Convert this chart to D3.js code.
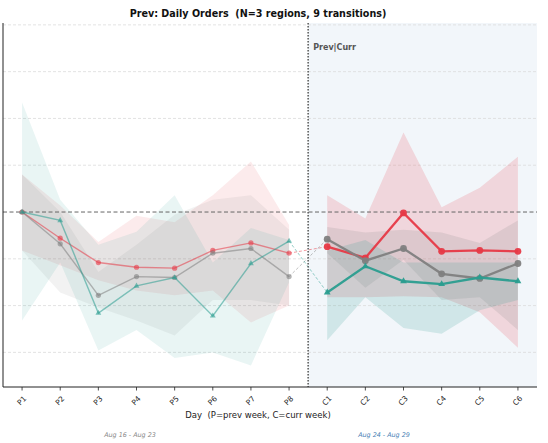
<!DOCTYPE html>
<html><head><meta charset="utf-8">
<script src="https://cdn.jsdelivr.net/npm/d3@7"></script>
<style>body{margin:0;background:#fff;font-family:"DejaVu Sans",sans-serif;} text{white-space:pre;}</style>
</head><body>
<svg id="c" width="548" height="443"></svg>
<script>
// ---- data ----
const prevDays = ["P1","P2","P3","P4","P5","P6","P7","P8"];
const currDays = ["C1","C2","C3","C4","C5","C6"];
const yTicks = [-15,-10,-5,0,5,10,15,20];
const seriesNames = ["Region A","Region B","Region C"];
const seriesColors = ["#e63946","#808080","#2a9d8f"];
const seriesShapes = ["circle","circle","triangle"];
// mean % change
const prevA = [0,-2.8,-5.4,-5.9,-6.0,-4.1,-3.3,-4.4];
const currA = [-3.7,-4.9,-0.1,-4.2,-4.1,-4.2];
const prevB = [0,-3.4,-8.9,-6.9,-7.0,-4.4,-3.9,-6.9];
const currB = [-2.9,-5.2,-3.9,-6.6,-7.1,-5.5];
const prevC = [0,-0.9,-10.8,-7.9,-7.0,-11.1,-5.5,-3.1];
const currC = [-8.6,-5.8,-7.4,-7.7,-7.0,-7.4];
// band upper / lower
const prevAHi = [4.0,0.7,-3.2,-0.4,-1.1,1.8,5.4,-1.4];
const prevALo = [-4.1,-5.7,-7.3,-8.4,-8.9,-8.4,-11.8,-10.0];
const prevBHi = [4.0,0.0,-6.4,-3.5,-0.3,1.3,1.8,-1.9];
const prevBLo = [-4.1,-8.6,-10.2,-11.6,-13.2,-9.4,-9.4,-10.0];
const prevCHi = [11.7,1.3,-3.5,-2.1,1.8,-5.4,-1.7,-3.0];
const prevCLo = [-11.6,-5.4,-14.8,-12.6,-15.6,-15.0,-16.4,-7.5];
const currAHi = [1.8,-0.7,8.5,0.5,2.6,5.9];
const currALo = [-9.1,-9.1,-9.0,-9.1,-10.7,-14.5];
const currBHi = [-1.6,-2.2,-1.9,-2.2,-3.3,-0.9];
const currBLo = [-4.4,-8.1,-5.1,-9.4,-9.1,-12.6];
const currCHi = [-4.1,-3.0,-5.4,-5.4,-5.4,-5.4];
const currCLo = [-13.7,-9.1,-12.4,-13.0,-10.5,-9.4];
const titleText = "Prev: Daily Orders  (N=3 regions, 9 transitions)";
const xLabelText = "Day  (P=prev week, C=curr week)";
const prevRange = "Aug 16 - Aug 23";
const currRange = "Aug 24 - Aug 29";
const dividerLabel = "Prev|Curr";

// ---- build ----
const allDays = prevDays.concat(currDays);
const series = [
  {prev:prevA,curr:currA,pHi:prevAHi,pLo:prevALo,cHi:currAHi,cLo:currALo},
  {prev:prevB,curr:currB,pHi:prevBHi,pLo:prevBLo,cHi:currBHi,cLo:currBLo},
  {prev:prevC,curr:currC,pHi:prevCHi,pLo:prevCLo,cHi:currCHi,cLo:currCLo}
].map((s,i)=>Object.assign(s,{name:seriesNames[i],color:seriesColors[i],shape:seriesShapes[i]}));

const L=3,R=537,T=23,B=387;
const svg=d3.select("#c");
const x=d3.scaleLinear().domain([-0.5,allDays.length-0.5]).range([L,R]);
const y=d3.scaleLinear().domain([-18.7,20.2]).range([B,T]);
const nP=prevDays.length;

// curr shading
svg.append("rect").attr("x",x(nP-0.5)).attr("y",T).attr("width",R-x(nP-0.5)).attr("height",B-T).attr("fill","#f2f6fa");

// grid
svg.append("g").selectAll("line").data(yTicks.filter(v=>v!==0)).join("line")
  .attr("x1",L).attr("x2",R).attr("y1",d=>y(d)).attr("y2",d=>y(d))
  .attr("stroke","#dcdcdc").attr("stroke-width",0.8).attr("stroke-dasharray","3,2");

// bands
const area=d3.area().x(d=>x(d.i)).y0(d=>y(d.lo)).y1(d=>y(d.hi));
series.forEach(s=>{
  const pd=s.prev.map((v,i)=>({i,hi:s.pHi[i],lo:s.pLo[i]}));
  const cd=s.curr.map((v,i)=>({i:i+nP,hi:s.cHi[i],lo:s.cLo[i]}));
  svg.append("path").attr("d",area(pd)).attr("fill",s.color).attr("fill-opacity",0.1);
  svg.append("path").attr("d",area(cd)).attr("fill",s.color).attr("fill-opacity",0.17);
});

// zero line
svg.append("line").attr("x1",L).attr("x2",R).attr("y1",y(0)).attr("y2",y(0))
  .attr("stroke","#666").attr("stroke-width",1).attr("stroke-dasharray","4,2.5");

const line=d3.line().x(d=>x(d.i)).y(d=>y(d.v));
const tri=d3.symbol().type(d3.symbolTriangle);
function markers(g,data,s,r,op){
  if(s.shape==="triangle"){
    g.selectAll(null).data(data).join("path")
      .attr("d",tri.size(r*r*2.2)()).attr("transform",d=>`translate(${x(d.i)},${y(d.v)})`)
      .attr("fill",s.color).attr("opacity",op);
  } else {
    g.selectAll(null).data(data).join("circle")
      .attr("cx",d=>x(d.i)).attr("cy",d=>y(d.v)).attr("r",r)
      .attr("fill",s.color).attr("opacity",op);
  }
}
series.forEach(s=>{
  const pd=s.prev.map((v,i)=>({i,v}));
  const cd=s.curr.map((v,i)=>({i:i+nP,v}));
  const g=svg.append("g");
  g.append("path").attr("d",line([pd[nP-1],cd[0]])).attr("fill","none")
    .attr("stroke",s.color).attr("stroke-width",1).attr("stroke-dasharray","3,2").attr("opacity",0.5);
  g.append("path").attr("d",line(pd)).attr("fill","none").attr("stroke",s.color)
    .attr("stroke-width",1.4).attr("opacity",0.55);
  markers(g,pd,s,2.6,0.6);
  g.append("path").attr("d",line(cd)).attr("fill","none").attr("stroke",s.color)
    .attr("stroke-width",2.3).attr("opacity",0.95);
  markers(g,cd,s,s.shape==="triangle"?3.0:3.4,0.95);
});

// divider
svg.append("line").attr("x1",x(nP-0.5)).attr("x2",x(nP-0.5)).attr("y1",T).attr("y2",B)
  .attr("stroke","#555").attr("stroke-width",1.5).attr("stroke-dasharray","1.5,1.5");
svg.append("text").attr("x",x(nP-0.5)+5).attr("y",50).text(dividerLabel)
  .attr("font-size",8).attr("font-weight","bold").attr("fill","#555");

// spines
svg.append("line").attr("x1",L).attr("x2",L).attr("y1",T).attr("y2",B).attr("stroke","#222").attr("stroke-width",1);
svg.append("line").attr("x1",L).attr("x2",R).attr("y1",B).attr("y2",B).attr("stroke","#222").attr("stroke-width",1);

// x ticks
const xt=svg.append("g");
allDays.forEach((d,i)=>{
  xt.append("line").attr("x1",x(i)).attr("x2",x(i)).attr("y1",B).attr("y2",B+3.5).attr("stroke","#222").attr("stroke-width",0.8);
  xt.append("text").attr("transform",`translate(${x(i)},${B+14}) rotate(-45)`)
    .attr("text-anchor","middle").attr("dominant-baseline","middle")
    .attr("font-size",7.5).attr("fill","#222").text(d);
});

// title & labels
svg.append("text").attr("x",258).attr("y",17).attr("text-anchor","middle")
  .attr("font-size",9.6).attr("font-weight","bold").attr("fill","#111").text(titleText);
svg.append("text").attr("x",258).attr("y",418).attr("text-anchor","middle")
  .attr("font-size",8.5).attr("fill","#222").text(xLabelText);
svg.append("text").attr("x",130).attr("y",437).attr("text-anchor","middle")
  .attr("font-size",6.4).attr("font-style","italic").attr("fill","#888").text(prevRange);
svg.append("text").attr("x",384).attr("y",437).attr("text-anchor","middle")
  .attr("font-size",6.4).attr("font-style","italic").attr("fill","#4a7fb5").text(currRange);
</script>
</body></html>
